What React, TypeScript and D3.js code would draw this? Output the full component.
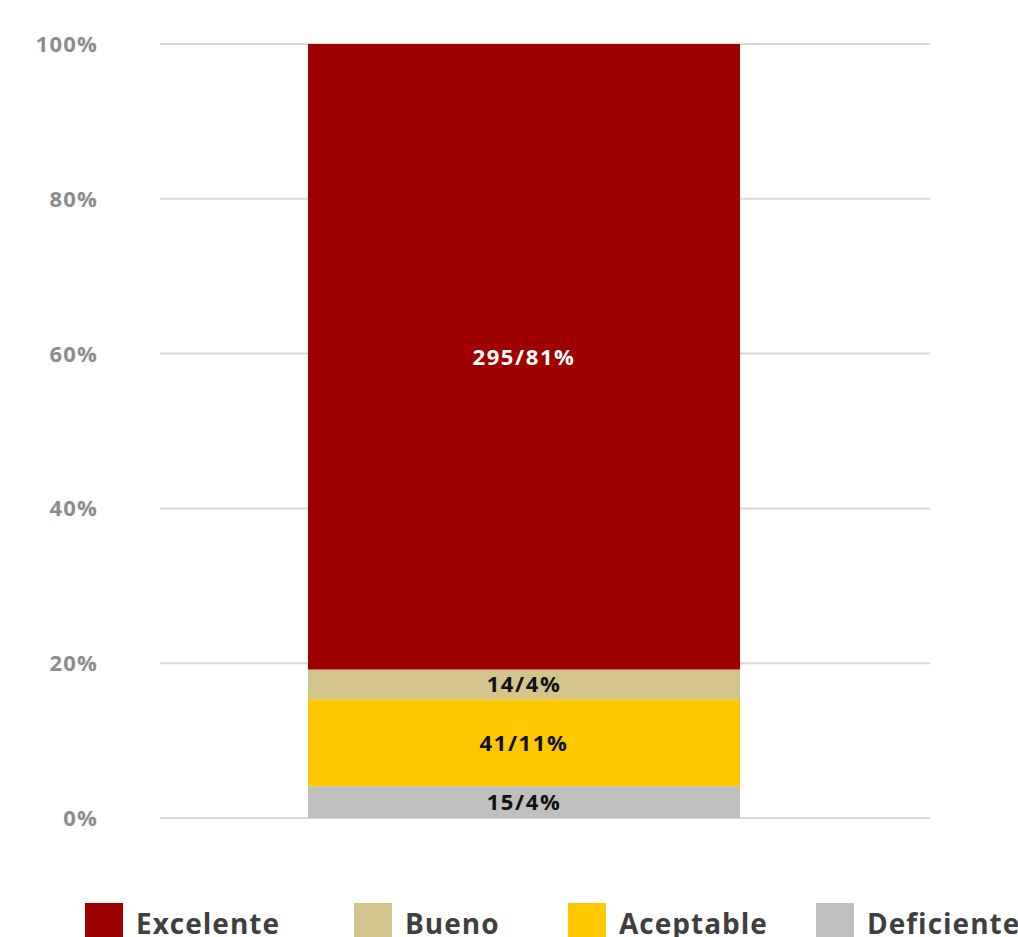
import React from "react";
import * as d3 from "d3";

const categories = ["Total"];
const seriesNames = ["Deficiente", "Aceptable", "Bueno", "Excelente"];
const seriesCounts = [15, 41, 14, 295];
const seriesPercentLabels = ["4%", "11%", "4%", "81%"];
const seriesColors = ["#bfbfbf", "#ffc800", "#d2c48c", "#9e0000"];
const labelColors = ["#111111", "#111111", "#111111", "#ffffff"];
const legendOrder = ["Excelente", "Bueno", "Aceptable", "Deficiente"];
const yTicks = [0, 0.2, 0.4, 0.6, 0.8, 1];

const W = 1018;
const H = 937;
const FONT = "'Open Sans', 'DejaVu Sans', sans-serif";

export default function App() {
  const total = d3.sum(seriesCounts);
  const y = d3.scaleLinear().domain([0, 1]).range([818, 44]);
  const x = d3.scaleBand().domain(categories).range([160, 888]).paddingInner(0).paddingOuter(0.3426);
  const gridX0 = 160;
  const gridX1 = 930;

  let acc = 0;
  const segs = seriesCounts.map((c, i) => {
    const y0 = acc / total;
    acc += c;
    const y1 = acc / total;
    return { name: seriesNames[i], y0, y1, i, c };
  });

  const legendX = d3.scaleOrdinal<string, number>().domain(legendOrder).range([85, 354, 568, 816]);

  return (
    <svg width={W} height={H} style={{ position: "absolute", left: 0, top: 0, background: "#fff" }}>
      {yTicks.map((t) => (
        <g key={t}>
          <line x1={gridX0} x2={gridX1} y1={y(t)} y2={y(t)} stroke="#d9d9d9" strokeWidth={2} />
          <text
            x={98}
            y={y(t)}
            dy="0.36em"
            textAnchor="end"
            fontFamily={FONT}
            fontWeight={700}
            fontSize={22}
            fill="#8c8c8c"
            letterSpacing={1.2}
          >
            {d3.format(".0%")(t)}
          </text>
        </g>
      ))}
      {categories.map((cat) => (
        <g key={cat}>
          {segs.map((s) => (
            <g key={s.name}>
              <rect
                x={x(cat)!}
                width={x.bandwidth()}
                y={y(s.y1)}
                height={y(s.y0) - y(s.y1)}
                fill={seriesColors[s.i]}
              />
              <text
                x={x(cat)! + x.bandwidth() / 2}
                y={(y(s.y0) + y(s.y1)) / 2}
                dy="0.36em"
                textAnchor="middle"
                fontFamily={FONT}
                fontWeight={700}
                fontSize={22}
                letterSpacing={1.6}
                fill={labelColors[s.i]}
              >
                {`${s.c}/${seriesPercentLabels[s.i]}`}
              </text>
            </g>
          ))}
        </g>
      ))}
      {legendOrder.map((name) => {
        const idx = seriesNames.indexOf(name);
        const lx = legendX(name);
        return (
          <g key={name}>
            <rect x={lx} y={903} width={38} height={40} fill={seriesColors[idx]} />
            <text
              x={lx + 51}
              y={934}
              fontFamily={FONT}
              fontWeight={700}
              fontSize={28}
              fill="#3f3f3f"
              letterSpacing={1}
            >
              {name}
            </text>
          </g>
        );
      })}
    </svg>
  );
}
